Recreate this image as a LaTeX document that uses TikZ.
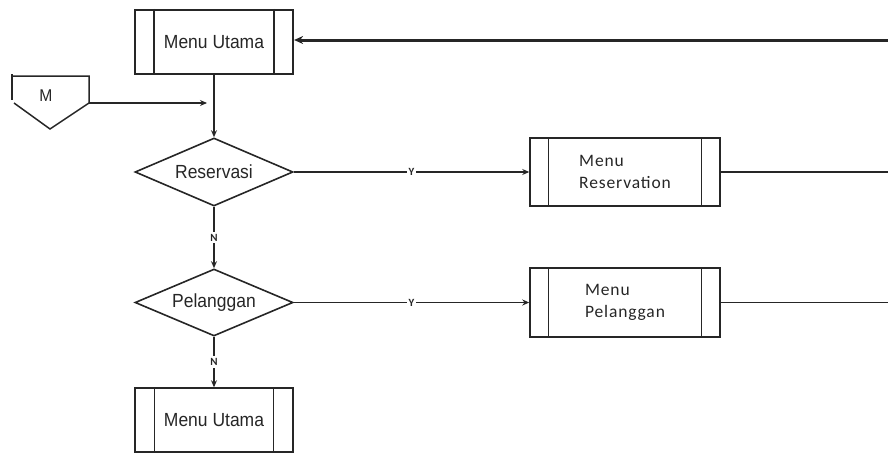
\documentclass[tikz,border=0pt]{standalone}
\usepackage{fontspec}
\setmainfont{Liberation Sans}[FakeStretch=0.92]
\newfontfamily\boxfont[LetterSpace=5]{Carlito}
\newfontfamily\tagfont{Carlito}
\usetikzlibrary{arrows.meta,shapes.geometric,calc}

\definecolor{ink}{HTML}{262626}

\begin{document}
\begin{tikzpicture}[x=1pt,y=-1pt,
  every node/.style={text=ink},
  tip/.style={-{Stealth[length=7pt,width=6pt]}},
  proc/.style={draw=ink, rectangle, inner sep=0pt, line width=1.5pt,
    font=\fontsize{19}{22}\selectfont},
  subproc/.style={draw=ink, rectangle, inner sep=0pt, line width=1.5pt,
    minimum width=190pt, align=left,
    font=\boxfont\fontsize{17.5}{22}\selectfont},
  decision/.style={draw=ink, diamond, aspect=2.33, inner sep=0pt, line width=1.6pt,
    minimum width=158pt, font=\fontsize{19}{22}\selectfont},
  flow/.style={draw=ink, line width=1.4pt},
  heavy/.style={draw=ink, line width=2.4pt},
  tag/.style={fill=white, inner sep=2pt, font=\tagfont\bfseries\fontsize{11}{12}\selectfont},
]
\useasboundingbox (0,0) rectangle (888,453);

% process boxes with side bars
\node[proc, line width=2.2pt, minimum width=158pt, minimum height=64pt] (top) at (214,42) {Menu Utama};
\node[subproc, minimum height=68pt] (resv) at (625,172) {Menu\\Reservation};
\node[subproc, minimum height=69pt] (plg) at (625,302.5) {Menu\\Pelanggan};
\node[proc, minimum width=158pt, minimum height=64pt] (bottom) at (214,420) {Menu Utama};

\foreach \b/\d in {top/20, resv/19, plg/19, bottom/20}{
  \draw[ink, line width=1.3pt] ([xshift=\d pt]\b.north west) -- ([xshift=\d pt]\b.south west);
  \draw[ink, line width=1.3pt] ([xshift=-\d pt]\b.north east) -- ([xshift=-\d pt]\b.south east);
}

% decisions
\node[decision, minimum height=68pt] (q1) at (214,172) {Reservasi};
\node[decision, minimum height=67pt] (q2) at (214,302.5) {Pelanggan};

% off-page connector M
\draw[ink, line width=1.5pt] (12,74) -- (12,100);
\draw[ink, line width=1.5pt] (12,76) -- (89,76) -- (89,103) -- (50,129) -- (14,103);
\node[font=\fontsize{17}{19}\selectfont] (m) at (46,96) {M};
\coordinate (mout) at (89,103);
\coordinate (merge) at (207,103);

% edge of the loop back
\coordinate (r1) at (888,172);
\coordinate (r2) at (888,302.5);
\coordinate (r0) at (888,40);

% connectors
\draw[flow, tip] (mout) -- (merge);
\draw[flow, tip] (top) -- (q1);
\draw[heavy, tip] (q1.east) -- node[tag, pos=0.5] {Y} (resv.west);
\draw[flow, tip] (q1.south) -- node[tag] {N} (q2.north);
\draw[flow, tip] (q2.east) -- node[tag, pos=0.5] {Y} (plg.west);
\draw[flow, tip] (q2.south) -- node[tag] {N} (bottom.north);
\draw[heavy] (resv.east) -- (r1);
\draw[flow] (plg.east) -- (r2);
\draw[draw=ink, line width=3pt, -{Stealth[length=9pt,width=8pt]}] (r0) -- (top.east |- r0);
\end{tikzpicture}
\end{document}
